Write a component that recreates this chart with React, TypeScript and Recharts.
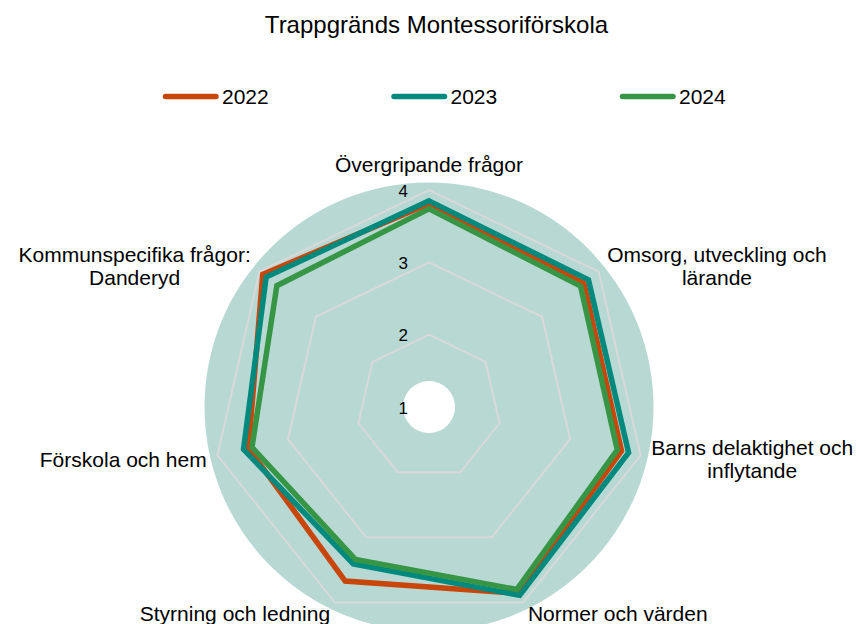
import React from "react";
import { RadarChart, Radar, PolarGrid, PolarAngleAxis, PolarRadiusAxis } from "recharts";

const categories = [
  "Övergripande frågor",
  "Omsorg, utveckling och lärande",
  "Barns delaktighet och inflytande",
  "Normer och värden",
  "Styrning och ledning",
  "Förskola och hem",
  "Kommunspecifika frågor: Danderyd",
];
const values2022 = [3.81, 3.74, 3.73, 3.86, 3.67, 3.56, 3.94];
const values2023 = [3.85, 3.82, 3.83, 3.89, 3.41, 3.63, 3.88];
const values2024 = [3.74, 3.68, 3.67, 3.8, 3.34, 3.51, 3.69];
const seriesNames = ["2022", "2023", "2024"];
const seriesColors = ["#c8460a", "#00897d", "#379646"];
const radiusTicks = [1, 2, 3, 4];
const title = "Trappgränds Montessoriförskola";

const data = categories.map((c, i) => ({
  category: c,
  y2022: values2022[i],
  y2023: values2023[i],
  y2024: values2024[i],
}));
const seriesKeys = ["y2022", "y2023", "y2024"];

const W = 858;
const H = 624;
const CX = 429;
const CY = 407;
const OUTER = 217;
const LABEL_R = 228;
const LABEL_SIZE = 21;
const LH = 23;
const FONT = '"Liberation Sans", Arial, sans-serif';

let ctx: CanvasRenderingContext2D | null = null;
function measure(s: string): number {
  if (!ctx) {
    const c = document.createElement("canvas");
    ctx = c.getContext("2d");
    if (ctx) ctx.font = `${LABEL_SIZE}px "Liberation Sans", Arial, sans-serif`;
  }
  return ctx ? ctx.measureText(s).width : s.length * LABEL_SIZE * 0.5;
}

function wrap(text: string, maxW: number): string[] {
  const words = text.split(" ");
  const lines: string[] = [];
  let cur = "";
  for (const w of words) {
    const t = cur ? cur + " " + w : w;
    if (cur && measure(t) > maxW) {
      lines.push(cur);
      cur = w;
    } else cur = t;
  }
  if (cur) lines.push(cur);
  return lines;
}

function AngleTick(props: any) {
  const { x, y, payload } = props;
  const dx = x - CX;
  const dy = y - CY;
  const len = Math.hypot(dx, dy) || 1;
  const ux = dx / len;
  const uy = dy / len;
  const px = CX + ux * LABEL_R;
  const py = CY + uy * LABEL_R;
  const lines = wrap(String(payload.value), 245);
  const bw = Math.max(...lines.map(measure));
  let centerX = px;
  if (ux > 0.05) centerX = px + bw / 2;
  else if (ux < -0.05) centerX = px - bw / 2;
  const n = lines.length;
  const first = uy < -0.95 ? py - 7 - (n - 1) * LH : py - ((n - 1) * LH) / 2 + 9;
  return (
    <text fontFamily={FONT} fontSize={LABEL_SIZE} fill="#000" textAnchor="middle">
      {lines.map((l, i) => (
        <tspan key={i} x={centerX} y={first + i * LH}>
          {l}
        </tspan>
      ))}
    </text>
  );
}

function RadiusTick(props: any) {
  const { x, y, payload } = props;
  return (
    <text x={x - 21} y={y + 6.5} textAnchor="end" fontFamily={FONT} fontSize={17} fill="#000">
      {payload.value}
    </text>
  );
}

export default function App() {
  return (
    <div style={{ position: "absolute", left: 0, top: 0, width: W, height: H, background: "#fff" }}>
      <svg width={W} height={H} style={{ position: "absolute", left: 0, top: 0 }}>
        <circle cx={CX} cy={CY} r={224.5} fill="#b8d8d4" />
        <circle cx={CX} cy={CY} r={26} fill="#ffffff" />
        <text x={436.5} y={33} textAnchor="middle" fontFamily={FONT} fontSize={24} fill="#000">
          {title}
        </text>
        {seriesNames.map((name, i) => {
          const sx = 163 + i * 228.5;
          return (
            <g key={name}>
              <line x1={sx + 2.5} y1={96.5} x2={sx + 53} y2={96.5} stroke={seriesColors[i]} strokeWidth={5.5} strokeLinecap="round" />
              <text x={sx + 59} y={104} fontFamily={FONT} fontSize={LABEL_SIZE} fill="#000">
                {name}
              </text>
            </g>
          );
        })}
      </svg>
      <div style={{ position: "absolute", left: 0, top: 0 }}>
        <RadarChart
          width={W}
          height={H}
          data={data}
          cx={CX}
          cy={CY}
          outerRadius={OUTER}
          innerRadius={0}
          startAngle={90}
          endAngle={-270}
          margin={{ top: 0, right: 0, bottom: 0, left: 0 }}
        >
          <PolarGrid gridType="polygon" radialLines={false} stroke="#d9d9d9" strokeWidth={2} />
          <PolarAngleAxis dataKey="category" tick={<AngleTick />} tickLine={false} axisLine={false} />
          <PolarRadiusAxis
            angle={90}
            domain={[1, 4]}
            ticks={radiusTicks as any}
            tickCount={4}
            axisLine={false}
            tick={<RadiusTick />}
          />
          {seriesKeys.map((k, i) => (
            <Radar
              key={k}
              name={seriesNames[i]}
              dataKey={k}
              stroke={seriesColors[i]}
              strokeWidth={5.5}
              fill="none"
              fillOpacity={0}
              dot={false}
              isAnimationActive={false}
            />
          ))}
        </RadarChart>
      </div>
    </div>
  );
}
